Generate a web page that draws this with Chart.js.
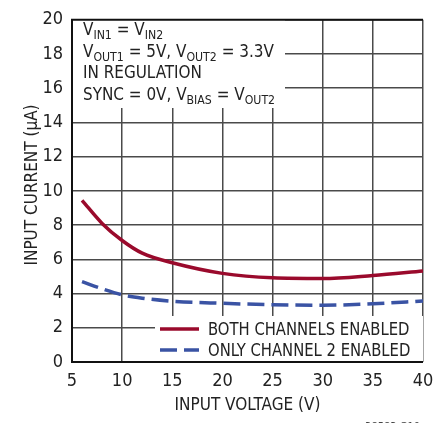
<!DOCTYPE html>
<html>
<head>
<meta charset="utf-8">
<script src="https://cdn.jsdelivr.net/npm/chart.js@4/dist/chart.umd.min.js"></script>
<style>
html,body{margin:0;padding:0;background:#fff;}
#wrap{width:447px;height:423px;position:relative;}
</style>
</head>
<body>
<div id="wrap"><canvas id="c" width="447" height="423"></canvas></div>
<script>
const FONT = '"Liberation Sans Narrow", "DejaVu Sans Condensed", "Arial Narrow", sans-serif';

const bothX = [6, 8, 10, 12, 15, 20, 25, 30, 35, 40];
const bothY = [9.45, 8.1, 7.1, 6.36, 5.8, 5.18, 4.92, 4.88, 5.06, 5.32];
const ch2X = [6, 8, 10, 12, 15, 20, 25, 30, 35, 40];
const ch2Y = [4.7, 4.28, 3.93, 3.73, 3.55, 3.43, 3.35, 3.32, 3.4, 3.57];

const seriesNames = ['BOTH CHANNELS ENABLED', 'ONLY CHANNEL 2 ENABLED'];
const xTitle = 'INPUT VOLTAGE (V)';
const yTitle = 'INPUT CURRENT (\u00B5A)';
const noteLines = [
  [['V',''],['IN1','sub'],[' = V',''],['IN2','sub']],
  [['V',''],['OUT1','sub'],[' = 5V, V',''],['OUT2','sub'],[' = 3.3V','']],
  [['IN REGULATION','']],
  [['SYNC = 0V, V',''],['BIAS','sub'],[' = V',''],['OUT2','sub']]
];
const footnote = '38583 G10';

const RED = '#9a0a2c';
const BLUE = '#3a53a4';
const SQ = 0.94; // horizontal squeeze for condensed look

function pts(xs, ys){ return xs.map((x,i)=>({x:x, y:ys[i]})); }

const decor = {
  id: 'decor',
  beforeDatasetsDraw(chart){
    const {ctx, chartArea:a} = chart;
    ctx.save();
    ctx.fillStyle = '#fff';
    ctx.fillRect(a.left, a.top, 285 - a.left, 108 - a.top);
    ctx.fillRect(155, 316, a.right - 155, a.bottom - 316);
    ctx.restore();
  },
  afterDraw(chart){
    const {ctx, chartArea:a} = chart;
    ctx.save();
    ctx.strokeStyle = '#111';
    ctx.lineWidth = 2;
    ctx.beginPath();
    ctx.moveTo(a.right, a.top); ctx.lineTo(a.left, a.top); ctx.lineTo(a.left, a.bottom); ctx.lineTo(a.right, a.bottom);
    ctx.stroke();
    // annotation text
    ctx.fillStyle = '#222';
    ctx.textBaseline = 'alphabetic';
    ctx.textAlign = 'left';
    const base = [35, 57, 78, 100];
    noteLines.forEach((line, i) => {
      ctx.save();
      ctx.translate(83, 0);
      ctx.scale(SQ, 1);
      let xx = 0;
      line.forEach(([t, k]) => {
        if (k === 'sub') {
          ctx.font = '13px ' + FONT;
          ctx.fillText(t, xx, base[i] + 4);
        } else {
          ctx.font = '18px ' + FONT;
          ctx.fillText(t, xx, base[i]);
        }
        xx += ctx.measureText(t).width;
      });
      ctx.restore();
    });
    // legend
    const ds = chart.data.datasets;
    const ly = [329, 350];
    ds.forEach((d, i) => {
      ctx.strokeStyle = d.borderColor;
      ctx.lineWidth = d.borderWidth;
      ctx.setLineDash(d.borderDash || []);
      ctx.beginPath(); ctx.moveTo(160, ly[i]); ctx.lineTo(199, ly[i]); ctx.stroke();
      ctx.setLineDash([]);
      ctx.save();
      ctx.translate(208, ly[i] + 1);
      ctx.scale(SQ, 1);
      ctx.font = '17.5px ' + FONT;
      ctx.fillStyle = '#222';
      ctx.textBaseline = 'middle';
      ctx.fillText(d.label, 0, 0);
      ctx.restore();
    });
    // axis titles
    ctx.fillStyle = '#222';
    ctx.font = '17px ' + FONT;
    ctx.textAlign = 'center';
    ctx.textBaseline = 'middle';
    ctx.fillText(xTitle, (a.left + a.right) / 2, 406);
    ctx.save();
    ctx.translate(33, 185);
    ctx.rotate(-Math.PI / 2);
    ctx.fillText(yTitle, 0, 0);
    ctx.restore();
    // footnote
    ctx.font = '11px ' + FONT;
    ctx.fillStyle = '#444';
    ctx.textAlign = 'right';
    ctx.textBaseline = 'alphabetic';
    ctx.fillText(footnote, 420, 430);
    ctx.restore();
  }
};

new Chart(document.getElementById('c'), {
  type: 'line',
  data: {
    datasets: [
      { label: seriesNames[0], data: pts(bothX, bothY), borderColor: RED, backgroundColor: RED,
        borderWidth: 3.5, pointRadius: 0, tension: 0.3, cubicInterpolationMode: 'monotone' },
      { label: seriesNames[1], data: pts(ch2X, ch2Y), borderColor: BLUE, backgroundColor: BLUE,
        borderWidth: 3.5, borderDash: [17, 7], pointRadius: 0, tension: 0.3, cubicInterpolationMode: 'monotone' }
    ]
  },
  options: {
    responsive: false,
    animation: false,
    devicePixelRatio: 1,
    layout: { padding: { left: 0, right: 24, top: 12, bottom: 0 } },
    plugins: { legend: { display: false }, tooltip: { enabled: false } },
    scales: {
      x: {
        type: 'linear', min: 5, max: 40,
        afterFit(s){ s.height = 423 - 362; },
        ticks: { stepSize: 5, color: '#222', font: { family: FONT, size: 18 }, padding: 9, maxRotation: 0 },
        grid: { color: '#4a4a4a', lineWidth: 1.5, drawTicks: false },
        border: { display: false }
      },
      y: {
        type: 'linear', min: 0, max: 20,
        afterFit(s){ s.width = 72; },
        ticks: { stepSize: 2, color: '#222', font: { family: FONT, size: 18 }, padding: 9 },
        grid: { color: '#4a4a4a', lineWidth: 1.5, drawTicks: false },
        border: { display: false }
      }
    }
  },
  plugins: [decor]
});
</script>
</body>
</html>
